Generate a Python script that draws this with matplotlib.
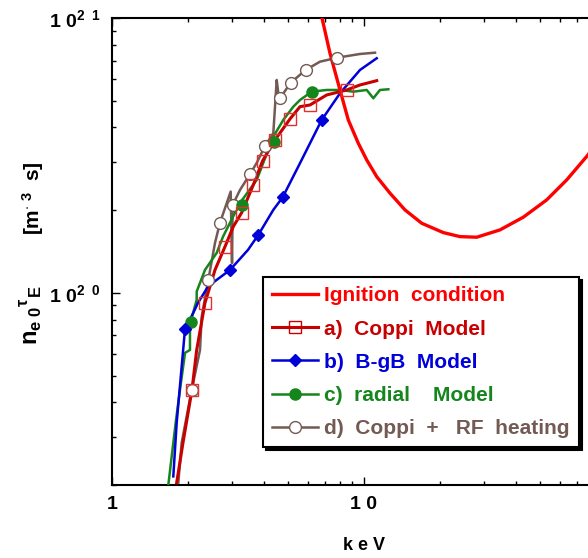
import matplotlib
matplotlib.use("Agg")
import matplotlib.pyplot as plt
from matplotlib.lines import Line2D
from matplotlib.ticker import FixedLocator, FixedFormatter, NullFormatter, LogLocator

plt.rcParams['font.family'] = ['Liberation Sans', 'DejaVu Sans']
plt.rcParams['font.weight'] = 'bold'
plt.rcParams['mathtext.fontset'] = 'custom'
plt.rcParams['mathtext.rm'] = 'Liberation Sans:bold'
plt.rcParams['mathtext.bf'] = 'Liberation Sans:bold'
plt.rcParams['mathtext.it'] = 'Liberation Sans:bold'
plt.rcParams['mathtext.default'] = 'bf'

SCALE = 1e20  # y values below are in units of 1e20 m^-3 s

# Ignition condition
ign_T = [6.65, 6.795, 7.329, 8.031, 8.663, 9.493, 10.25, 11.23, 12.68, 14.54,
         16.94, 20.64, 24.04, 28.02, 34.65, 42.87, 53.09, 63.74, 77.42, 88.0]
ign_n = [11.0, 10.11, 7.44, 5.47, 4.257, 3.502, 3.046, 2.648, 2.305, 2.004,
         1.792, 1.657, 1.602, 1.594, 1.695, 1.885, 2.179, 2.576, 3.176, 3.8]

# a) Coppi model
coppi_T = [1.806, 1.913, 2.077, 2.168, 2.339, 2.448, 2.563, 2.809, 3.029, 3.271,
           3.637, 3.963, 4.434, 5.085, 5.572, 6.105, 7.112, 8.538, 9.641, 11.23]
coppi_n = [0.204, 0.285, 0.444, 0.620, 0.920, 1.054, 1.212, 1.474, 1.742, 1.959,
           2.471, 3.028, 3.600, 4.293, 4.758, 4.826, 5.248, 5.472, 5.706, 5.916]
coppi_mk_T = [2.077, 2.339, 2.809, 3.271, 3.637, 3.963, 4.434, 5.085, 6.105, 8.538]
coppi_mk_n = [0.444, 0.920, 1.474, 1.959, 2.471, 3.028, 3.600, 4.293, 4.826, 5.472]

# b) B-gB model
bgb_T = [1.751, 1.806, 1.949, 2.102, 2.194, 2.404, 2.603, 2.940, 3.464, 3.807,
         4.366, 4.757, 5.572, 6.795, 8.031, 9.641, 11.23]
bgb_n = [0.215, 0.337, 0.740, 0.846, 0.920, 1.054, 1.115, 1.212, 1.433, 1.625,
         2.004, 2.228, 2.963, 4.257, 5.324, 6.471, 7.137]
bgb_mk_T = [1.949, 2.940, 3.807, 4.757, 6.795]
bgb_mk_n = [0.740, 1.212, 1.625, 2.228, 4.257]

# c) radial model
rad_T = [1.673, 1.795, 1.861, 1.949, 2.039, 2.039, 2.052, 2.168, 2.168, 2.339,
         2.603, 2.758, 3.221, 3.752, 4.366, 4.783, 5.243, 5.572, 6.201, 7.112,
         8.031, 9.070, 10.25, 10.89, 11.57, 12.49]
rad_n = [0.200, 0.345, 0.444, 0.605, 0.620, 0.734, 0.786, 0.943, 1.011, 1.212,
         1.398, 1.602, 2.125, 2.576, 3.701, 4.257, 4.758, 5.031, 5.395, 5.472,
         5.472, 5.395, 5.472, 5.105, 5.472, 5.504]
rad_mk_T = [2.052, 3.271, 4.40, 6.201]
rad_mk_n = [0.786, 2.089, 3.55, 5.395]

# d) Coppi + RF heating
rf_T = [1.833, 1.890, 2.072, 2.235, 2.270, 2.411, 2.563, 2.683, 2.958, 2.994,
        3.013, 3.221, 3.528, 3.752, 4.047, 4.366, 4.504, 4.571, 4.642, 5.118,
        5.870, 6.690, 7.834, 9.641, 11.06]
rf_n = [0.204, 0.285, 0.444, 0.620, 0.820, 1.115, 1.520, 1.801, 2.336, 1.282,
        2.089, 2.369, 2.702, 2.970, 3.424, 3.808, 5.951, 5.324, 5.105, 5.816,
        6.471, 6.937, 7.172, 7.398, 7.479]
rf_mk_T = [2.072, 2.398, 2.683, 3.029, 3.528, 4.047, 4.642, 5.118, 5.870, 7.834]
rf_mk_n = [0.444, 1.115, 1.801, 2.089, 2.702, 3.424, 5.105, 5.816, 6.471, 7.172]

labels = ["Ignition  condition", "a)  Coppi  Model", "b)  B-gB  Model",
          "c)  radial    Model", "d)  Coppi  +   RF  heating"]
x_ticks = [1, 10]
x_ticklabels = ["1", "1 0"]
y_ticks = [1e20, 1e21]
y_ticklabels = [r"1 0$^{2\ \ 0}$", r"1 0$^{2\ \ 1}$"]

C_IGN = '#ff0000'
C_COP = '#c80000'
C_BGB = '#0000d8'
C_RAD = '#14861c'
C_RF = '#735a52'

W, H = 588, 558
fig = plt.figure(figsize=(W / 100, H / 100), dpi=100)
ax = fig.add_axes([112 / W, 1 - 485 / H, 504 / W, 467 / H])
ax.set_xscale('log')
ax.set_yscale('log')

def sc(v):
    return [a * SCALE for a in v]

ax.plot(rf_T, sc(rf_n), color=C_RF, lw=1.8, zorder=3)
ax.plot(rf_mk_T, sc(rf_mk_n), ls='none', marker='o', ms=8.5, mfc='white', mec=C_RF, mew=1.0, zorder=6)
ax.plot(rad_T, sc(rad_n), color=C_RAD, lw=1.8, zorder=4)
ax.plot(rad_mk_T, sc(rad_mk_n), ls='none', marker='o', ms=8, mfc=C_RAD, mec=C_RAD, zorder=6)
ax.plot(coppi_T, sc(coppi_n), color=C_COP, lw=2.2, zorder=5)
ax.plot(coppi_mk_T, sc(coppi_mk_n), ls='none', marker='s', ms=8.5, mfc='none', mec='#e03030', mew=1.0, zorder=6)
ax.plot(bgb_T, sc(bgb_n), color=C_BGB, lw=1.8, zorder=4)
ax.plot(bgb_mk_T, sc(bgb_mk_n), ls='none', marker='D', ms=6, mfc=C_BGB, mec=C_BGB, zorder=6)
ax.plot(ign_T, sc(ign_n), color=C_IGN, lw=2.4, zorder=5)

ax.set_xlim(1, 100)
ax.set_ylim(2e19, 1e21)

ax.xaxis.set_major_locator(FixedLocator(x_ticks))
ax.xaxis.set_major_formatter(FixedFormatter(x_ticklabels))
ax.xaxis.set_minor_locator(LogLocator(base=10, subs=range(2, 10)))
ax.xaxis.set_minor_formatter(NullFormatter())
ax.yaxis.set_major_locator(FixedLocator(y_ticks))
ax.yaxis.set_major_formatter(FixedFormatter(y_ticklabels))
ax.yaxis.set_minor_locator(LogLocator(base=10, subs=range(2, 10)))
ax.yaxis.set_minor_formatter(NullFormatter())
ax.tick_params(which='both', direction='in', top=True, right=True, width=1.0)
ax.tick_params(which='major', length=6, labelsize=14, pad=8)
ax.tick_params(which='minor', length=3)
for lab in ax.get_xticklabels() + ax.get_yticklabels():
    lab.set_fontweight('bold')
for s in ax.spines.values():
    s.set_linewidth(1.5)

fig.text(364 / W, 1 - 545 / H, "k e V", ha='center', va='center', fontsize=13, fontweight='bold')
fig.text(31 / W, 1 - 315 / H, r"n$_{e\ 0}{}^{\tau}{}_{E}$", rotation=90, ha='center', va='center', fontsize=17)
fig.text(33 / W, 1 - 198 / H, r"[m$^{\cdot\ 3}$  s]", rotation=90, ha='center', va='center', fontsize=15)

handles = [
    Line2D([], [], color=C_IGN, lw=2.4),
    Line2D([], [], color=C_COP, lw=2.2, marker='s', ms=8.5, mfc='none', mec=C_COP, mew=1.0),
    Line2D([], [], color=C_BGB, lw=1.8, marker='D', ms=6, mfc=C_BGB, mec=C_BGB),
    Line2D([], [], color=C_RAD, lw=1.8, marker='o', ms=8, mfc=C_RAD, mec=C_RAD),
    Line2D([], [], color=C_RF, lw=1.8, marker='o', ms=8.5, mfc='white', mec=C_RF, mew=1.0),
]
leg = ax.legend(handles, labels, loc='upper left', bbox_to_anchor=(263 / W, 1 - 277 / H),
                bbox_transform=fig.transFigure, borderaxespad=0,
                prop={'weight': 'bold', 'size': 15}, labelcolor='linecolor',
                handlelength=2.2, handletextpad=0.3, labelspacing=0.68, borderpad=0.45,
                fancybox=False, edgecolor='black', framealpha=1,
                shadow={'color': 'black', 'alpha': 1})
leg.get_frame().set_linewidth(1.5)
leg.set_zorder(10)

fig.savefig("out.png", dpi=100)
